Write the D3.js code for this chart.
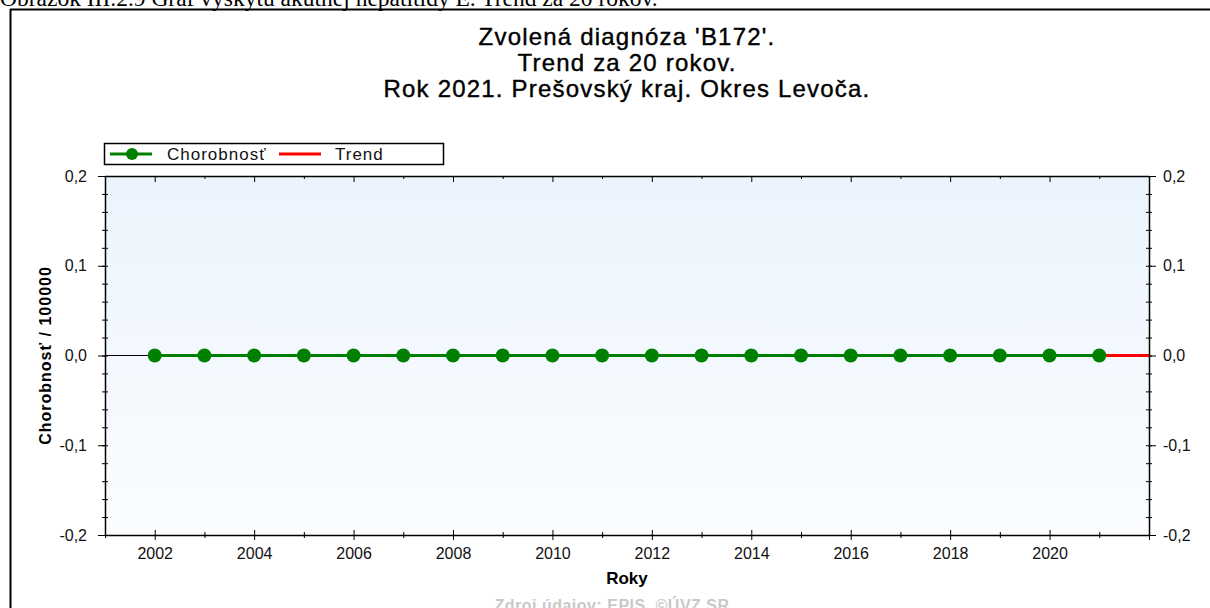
<!DOCTYPE html>
<html>
<head>
<meta charset="utf-8">
<script src="https://cdn.jsdelivr.net/npm/d3@7"></script>
<style>
  body { margin: 0; background: #fff; }
  svg { display: block; }
  .tick text { font-family: Arial, "Liberation Sans", sans-serif; font-size: 16px; fill: #111; }
</style>
</head>
<body>
<svg width="1210" height="608"></svg>
<script>
// data
var years = [2002, 2003, 2004, 2005, 2006, 2007, 2008, 2009, 2010, 2011,
             2012, 2013, 2014, 2015, 2016, 2017, 2018, 2019, 2020, 2021];
var chorobnost = [0, 0, 0, 0, 0, 0, 0, 0, 0, 0, 0, 0, 0, 0, 0, 0, 0, 0, 0, 0];
var trendYears = [2002, 2022];
var trendValues = [0, 0];
var yTicks = [-0.2, -0.1, 0, 0.1, 0.2];
var titleLines = ["Zvolená diagnóza 'B172'.", "Trend za 20 rokov.", "Rok 2021. Prešovský kraj. Okres Levoča."];

var svg = d3.select("svg"),
    margin = { top: 176, right: 61, bottom: 73, left: 105 },
    width = +svg.attr("width"),
    height = +svg.attr("height");

var x = d3.scaleLinear().domain([2001, 2022]).range([margin.left, width - margin.right]);
var y = d3.scaleLinear().domain([-0.2, 0.2]).range([height - margin.bottom, margin.top]);
var font = "Arial, 'Liberation Sans', sans-serif";

// document caption + frame
svg.append("text")
    .attr("x", 0).attr("y", 6)
    .style("font-family", "'Liberation Serif', 'Times New Roman', serif")
    .style("font-size", "23.5px")
    .text("Obrázok III.2.9 Graf výskytu akútnej hepatitídy E. Trend za 20 rokov.");
svg.append("line").attr("x1", 10).attr("x2", width).attr("y1", 9.5).attr("y2", 9.5)
    .attr("stroke", "#000").attr("stroke-width", 2);
svg.append("line").attr("x1", 10.5).attr("x2", 10.5).attr("y1", 9).attr("y2", height)
    .attr("stroke", "#000").attr("stroke-width", 2);

// plot background
var grad = svg.append("defs").append("linearGradient")
    .attr("id", "bg").attr("x1", 0).attr("x2", 0).attr("y1", 0).attr("y2", 1);
grad.append("stop").attr("offset", "0%").attr("stop-color", "#ebf4fd");
grad.append("stop").attr("offset", "100%").attr("stop-color", "#fbfdff");
svg.append("rect")
    .attr("x", x(2001)).attr("y", y(0.2))
    .attr("width", x(2022) - x(2001)).attr("height", y(-0.2) - y(0.2))
    .attr("fill", "url(#bg)");

// title
svg.append("g").selectAll("text")
    .data(titleLines).enter()
    .append("text")
    .attr("x", (x(2001) + x(2022)) / 2)
    .attr("y", function(d, i) { return 45 + i * 26; })
    .attr("text-anchor", "middle")
    .style("font-family", font)
    .style("font-size", "24px")
    .style("letter-spacing", "1.2px")
    .style("fill", "#000")
    .style("stroke", "#000").style("stroke-width", 0.4)
    .text(function(d) { return d; });

// axes
var minorY = d3.range(-0.2, 0.2001, 0.02).map(function(v) { return +v.toFixed(2); });
var allYears = d3.range(2001, 2023);
var evenYears = years.filter(function(d) { return d % 2 === 0; });
var fmt = function(d) { return d3.format(".1f")(d).replace(".", ",").replace("\u2212", "-"); };

// left
svg.append("g").attr("transform", "translate(" + x(2001) + ",0)")
    .call(d3.axisLeft(y).tickValues(minorY).tickSize(3).tickFormat(""))
    .call(function(g) { g.selectAll(".tick line").attr("x2", 3).attr("x1", -3); g.select(".domain").remove(); });
svg.append("g").attr("transform", "translate(" + x(2001) + ",0)")
    .call(d3.axisLeft(y).tickValues(yTicks).tickSize(7).tickPadding(11).tickFormat(fmt))
    .call(function(g) { g.select(".domain").attr("d", "M0.5," + y(0.2) + "V" + y(-0.2)); });
// right
svg.append("g").attr("transform", "translate(" + x(2022) + ",0)")
    .call(d3.axisRight(y).tickValues(minorY).tickSize(3).tickFormat(""))
    .call(function(g) { g.selectAll(".tick line").attr("x2", 3).attr("x1", -3); g.select(".domain").remove(); });
svg.append("g").attr("transform", "translate(" + x(2022) + ",0)")
    .call(d3.axisRight(y).tickValues(yTicks).tickSize(7).tickPadding(7).tickFormat(fmt))
    .call(function(g) { g.select(".domain").attr("d", "M0.5," + y(0.2) + "V" + y(-0.2)); });
// top (ticks inward)
svg.append("g").attr("transform", "translate(0," + y(0.2) + ")")
    .call(d3.axisBottom(x).tickValues(allYears).tickSize(3).tickFormat(""))
    .call(function(g) {
        g.selectAll(".tick line").attr("y2", function(d) { return d % 2 === 0 ? 6 : 3; });
        g.select(".domain").attr("d", "M" + x(2001) + ",0.5H" + x(2022));
    });
// bottom (ticks crossing)
svg.append("g").attr("transform", "translate(0," + y(-0.2) + ")")
    .call(d3.axisBottom(x).tickValues(allYears).tickSize(5).tickPadding(8)
        .tickFormat(function(d) { return evenYears.indexOf(d) >= 0 ? d : ""; }))
    .call(function(g) {
        g.selectAll(".tick line")
            .attr("y1", function(d) { return d % 2 === 0 ? -5 : -3; })
            .attr("y2", function(d) { return d % 2 === 0 ? 5 : 3; });
        g.select(".domain").attr("d", "M" + x(2001) + ",0.5H" + x(2022));
    });
svg.selectAll(".domain").attr("stroke", "#000").attr("stroke-width", 1.5);

// zero line
svg.append("line")
    .attr("x1", x(2001)).attr("x2", x(2022))
    .attr("y1", y(0)).attr("y2", y(0))
    .attr("stroke", "#000").attr("stroke-width", 1);

// trend
var line = d3.line().x(function(d) { return x(d[0]); }).y(function(d) { return y(d[1]); });
svg.append("path")
    .datum(d3.zip(trendYears, trendValues))
    .attr("d", line)
    .attr("fill", "none").attr("stroke", "#ff0000").attr("stroke-width", 3);

// chorobnost
var pts = d3.zip(years, chorobnost);
svg.append("path")
    .datum(pts)
    .attr("d", line)
    .attr("fill", "none").attr("stroke", "#008000").attr("stroke-width", 3);
svg.append("g").selectAll("circle")
    .data(pts).enter()
    .append("circle")
    .attr("cx", function(d) { return x(d[0]); })
    .attr("cy", function(d) { return y(d[1]); })
    .attr("r", 7)
    .attr("fill", "#008000");

// legend
var lg = svg.append("g");
lg.append("rect").attr("x", 104.5).attr("y", 143.5).attr("width", 339).attr("height", 21)
    .attr("fill", "#fff").attr("stroke", "#000").attr("stroke-width", 1.5);
lg.append("line").attr("x1", 110).attr("x2", 152).attr("y1", 154).attr("y2", 154)
    .attr("stroke", "#008000").attr("stroke-width", 3);
lg.append("circle").attr("cx", 132).attr("cy", 154).attr("r", 6).attr("fill", "#008000");
lg.append("line").attr("x1", 279).attr("x2", 321).attr("y1", 154).attr("y2", 154)
    .attr("stroke", "#ff0000").attr("stroke-width", 3);
lg.selectAll("text.lbl")
    .data([["Chorobnosť", 167], ["Trend", 335]]).enter()
    .append("text")
    .attr("x", function(d) { return d[1]; }).attr("y", 160)
    .style("font-family", font)
    .style("font-size", "17px").style("letter-spacing", "1px").style("fill", "#111")
    .text(function(d) { return d[0]; });

// axis titles
svg.append("text")
    .attr("transform", "translate(51," + y(0) + ") rotate(-90)")
    .attr("text-anchor", "middle")
    .style("font-family", font)
    .style("font-size", "16px").style("font-weight", "bold").style("letter-spacing", "1px")
    .text("Chorobnosť / 100000");
svg.append("text")
    .attr("x", (x(2001) + x(2022)) / 2).attr("y", 584)
    .attr("text-anchor", "middle")
    .style("font-family", font)
    .style("font-size", "17px").style("font-weight", "bold")
    .text("Roky");
svg.append("text")
    .attr("x", 612).attr("y", 611)
    .attr("text-anchor", "middle")
    .style("font-family", font)
    .style("font-size", "16px").style("font-weight", "bold").style("letter-spacing", "0.5px")
    .style("fill", "#c8c8c8")
    .text("Zdroj údajov: EPIS, ©ÚVZ SR");
</script>
</body>
</html>
